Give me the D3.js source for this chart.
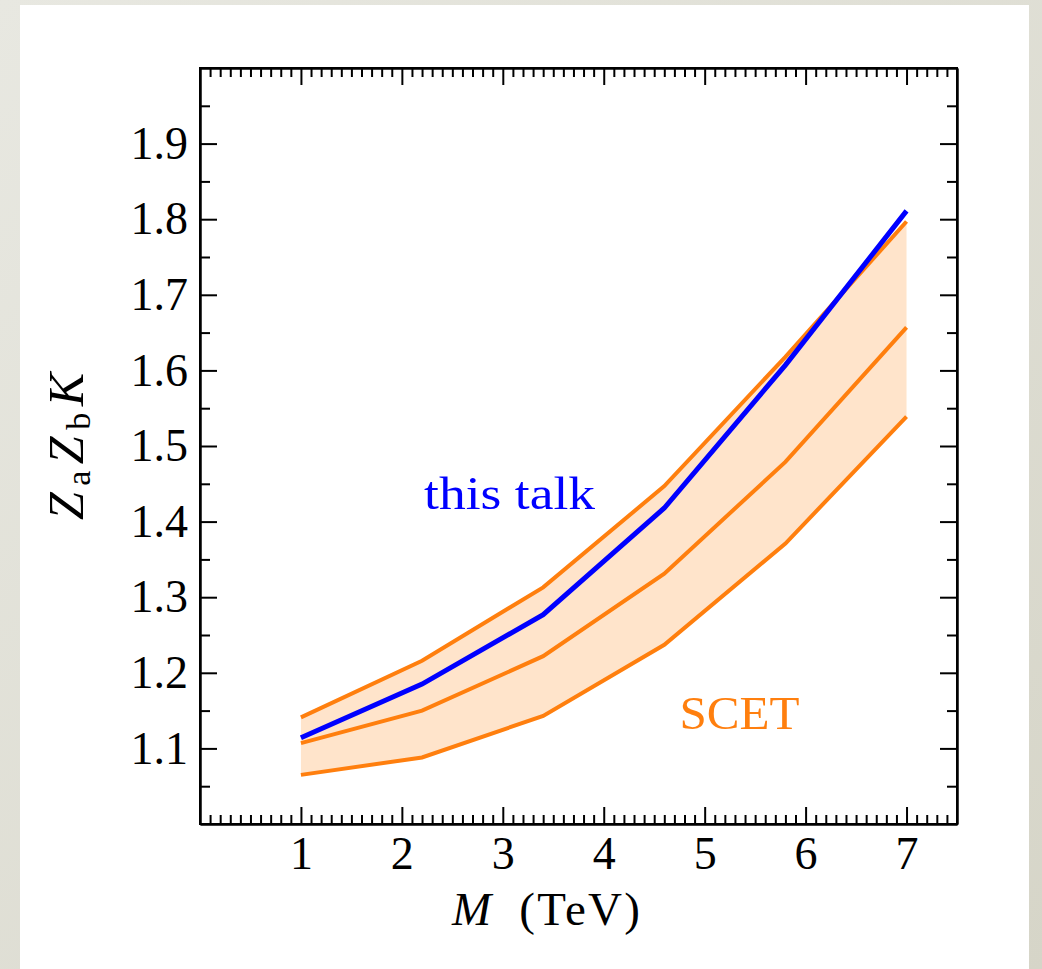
<!DOCTYPE html>
<html>
<head>
<meta charset="utf-8">
<script src="https://cdn.jsdelivr.net/npm/d3@7"></script>
<style>
  html, body { margin: 0; padding: 0; background: #e4e4dc; }
  svg { display: block; }
</style>
</head>
<body>
<svg class="chart"></svg>
<script>
// data
const masses = [1, 2.2, 3.4, 4.6, 5.8, 7];
const thisTalk = [1.114, 1.185, 1.277, 1.418, 1.607, 1.811];
const scetUpper = [1.141, 1.216, 1.313, 1.447, 1.618, 1.797];
const scetMid = [1.107, 1.150, 1.222, 1.331, 1.479, 1.657];
const scetLower = [1.065, 1.088, 1.143, 1.237, 1.371, 1.539];
const xTicks = [1, 2, 3, 4, 5, 6, 7];
const yTicks = [1.1, 1.2, 1.3, 1.4, 1.5, 1.6, 1.7, 1.8, 1.9];

const W = 1042, H = 969;
const margin = {top: 68, left: 200, right: 85, bottom: 145};
const width = W - margin.left - margin.right;
const height = H - margin.top - margin.bottom;
const font = '"Liberation Serif", "DejaVu Serif", serif';
const orange = '#ff7f0e';

const svg = d3.select('.chart').attr('width', W).attr('height', H);

// page panel
const grad = svg.append('defs').append('linearGradient').attr('id', 'bg')
  .attr('x1', 0).attr('x2', 1).attr('y1', 0).attr('y2', 1);
grad.append('stop').attr('offset', 0).attr('stop-color', '#e8e8e1');
grad.append('stop').attr('offset', 1).attr('stop-color', '#d6d5c8');
svg.append('rect').attr('width', W).attr('height', H).attr('fill', 'url(#bg)');
svg.append('rect').attr('x', 20).attr('y', 5).attr('width', 1009).attr('height', H - 5).attr('fill', '#fff');

const chart = svg.append('g')
  .attr('transform', 'translate(' + margin.left + ',' + margin.top + ')');

const x = d3.scaleLinear().domain([0, 7.5]).range([0, width]);
const y = d3.scaleLinear().domain([1.0, 2.0]).range([height, 0]);

const idx = d3.range(masses.length);

// band
chart.append('path')
  .datum(idx)
  .attr('fill', '#ffe4cb')
  .attr('d', d3.area().x((i) => x(masses[i])).y0((i) => y(scetLower[i])).y1((i) => y(scetUpper[i])));

const line = (arr) => d3.line().x((i) => x(masses[i])).y((i) => y(arr[i]))(idx);

[scetUpper, scetMid, scetLower].forEach((arr) => {
  chart.append('path').attr('d', line(arr))
    .attr('fill', 'none').attr('stroke', orange).attr('stroke-width', 4);
});
chart.append('path').attr('d', line(thisTalk))
  .attr('fill', 'none').attr('stroke', '#0000ff').attr('stroke-width', 5);

// axes with inward ticks on all four sides
const minorX = d3.range(0.1, 7.5, 0.1).filter((v) => Math.abs(v - Math.round(v)) > 0.01);
const minorY = d3.range(1.05, 2.0, 0.1);

function styleAxis(g) {
  g.selectAll('path, line').attr('stroke', '#000').attr('stroke-width', 2);
  g.selectAll('text').attr('font-family', font).attr('font-size', 46).attr('fill', '#000');
}

chart.append('g').attr('transform', 'translate(0,' + height + ')')
  .call(d3.axisBottom(x).tickValues(minorX).tickSize(-9).tickFormat('').tickSizeOuter(0))
  .call(styleAxis);
chart.append('g').attr('transform', 'translate(0,' + height + ')')
  .call(d3.axisBottom(x).tickValues(xTicks).tickSize(-17).tickPadding(12).tickFormat(d3.format('d')).tickSizeOuter(0))
  .call(styleAxis);
chart.append('g')
  .call(d3.axisTop(x).tickValues(minorX).tickSize(-9).tickFormat('').tickSizeOuter(0))
  .call(styleAxis);
chart.append('g')
  .call(d3.axisTop(x).tickValues(xTicks).tickSize(-17).tickFormat('').tickSizeOuter(0))
  .call(styleAxis);

chart.append('g')
  .call(d3.axisLeft(y).tickValues(minorY).tickSize(-10).tickFormat('').tickSizeOuter(0))
  .call(styleAxis);
chart.append('g')
  .call(d3.axisLeft(y).tickValues(yTicks).tickSize(-17).tickPadding(12).tickFormat(d3.format('.1f')).tickSizeOuter(0))
  .call(styleAxis);
chart.append('g').attr('transform', 'translate(' + width + ',0)')
  .call(d3.axisRight(y).tickValues(minorY).tickSize(-10).tickFormat('').tickSizeOuter(0))
  .call(styleAxis);
chart.append('g').attr('transform', 'translate(' + width + ',0)')
  .call(d3.axisRight(y).tickValues(yTicks).tickSize(-17).tickFormat('').tickSizeOuter(0))
  .call(styleAxis);

chart.append('rect').attr('width', width).attr('height', height)
  .attr('fill', 'none').attr('stroke', '#000').attr('stroke-width', 2);

// labels
chart.append('text').attr('x', x(2.22)).attr('y', y(1.4) - 13)
  .attr('font-family', font).attr('font-size', 47).attr('fill', '#0000ff')
  .attr('textLength', 171).attr('lengthAdjust', 'spacingAndGlyphs')
  .text('this talk');
chart.append('text').attr('x', x(4.75)).attr('y', y(1.13) + 3)
  .attr('font-family', font).attr('font-size', 47).attr('fill', orange)
  .attr('textLength', 120).attr('lengthAdjust', 'spacingAndGlyphs')
  .text('SCET');

const xl = svg.append('text').attr('x', 452).attr('y', 925)
  .attr('font-family', font).attr('font-size', 47)
  .attr('textLength', 188).attr('lengthAdjust', 'spacing');
xl.append('tspan').attr('font-style', 'italic').text('M');
xl.append('tspan').text('\u2002(TeV)');

const yl = svg.append('text').attr('transform', 'translate(83,520) rotate(-90)')
  .attr('font-family', font).attr('font-size', 50)
  .attr('textLength', 147).attr('lengthAdjust', 'spacing');
yl.append('tspan').attr('font-style', 'italic').text('Z');
yl.append('tspan').attr('font-size', 34).attr('dy', 7).text('a');
yl.append('tspan').attr('font-style', 'italic').attr('dy', -7).text('Z');
yl.append('tspan').attr('font-size', 34).attr('dy', 7).text('b');
yl.append('tspan').attr('font-style', 'italic').attr('dy', -7).text('K');
</script>
</body>
</html>
